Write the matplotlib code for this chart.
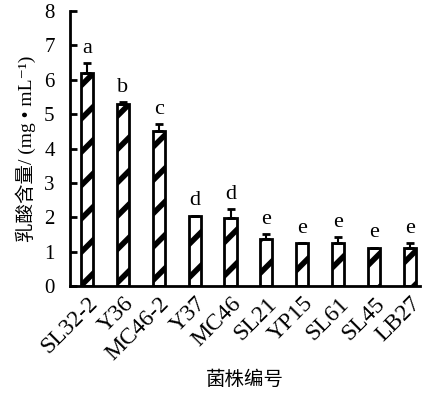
import matplotlib
matplotlib.use("Agg")
import matplotlib.pyplot as plt
import matplotlib.transforms as mtransforms
import numpy as np

strains = ["SL32-2", "Y36", "MC46-2", "Y37", "MC46", "SL21", "YP15", "SL61", "SL45", "LB27"]
values = [6.2, 5.3, 4.5, 2.05, 1.97, 1.38, 1.25, 1.25, 1.12, 1.12]
errors = [0.28, 0.05, 0.2, 0.0, 0.27, 0.13, 0.0, 0.17, 0.0, 0.13]
letters = ["a", "b", "c", "d", "d", "e", "e", "e", "e", "e"]
yticks = [0, 1, 2, 3, 4, 5, 6, 7, 8]

plt.rcParams['hatch.linewidth'] = 4.0
plt.rcParams['font.family'] = ['Liberation Serif', 'Noto Sans CJK SC', 'DejaVu Sans']

fig = plt.figure(figsize=(4.24, 3.93), dpi=100)
ax = fig.add_axes([0.165, 0.272, 0.825, 0.700])

x = np.arange(len(strains))
bars = ax.bar(x, values, width=0.34, color='white', edgecolor='black',
              linewidth=2.0, hatch='/', zorder=2)
ax.errorbar(x, values, yerr=[np.zeros(len(errors)), errors], fmt='none',
            ecolor='black', elinewidth=1.5, capsize=3, capthick=2, zorder=3)

for xi, v, e, l in zip(x, values, errors, letters):
    ax.text(xi, v + e + 0.15, l, ha='center', va='bottom', fontsize=16)

ax.set_xlim(-0.48, 9.28)
ax.set_ylim(0, 8)
ax.set_yticks(yticks)
ax.set_yticklabels([str(t) for t in yticks], fontsize=15)
ax.set_xticks(x)
ax.set_xticklabels(strains, rotation=45, ha='right', rotation_mode='anchor', fontsize=17)
offset = mtransforms.ScaledTranslation(10 / 100, -6 / 100, fig.dpi_scale_trans)
for lbl in ax.get_xticklabels():
    lbl.set_transform(lbl.get_transform() + offset)
ax.tick_params(axis='y', direction='in', length=5, width=2, pad=11)
ax.tick_params(axis='x', length=0, pad=5)
for s in ['top', 'right']:
    ax.spines[s].set_visible(False)
ax.spines['left'].set_linewidth(2)
ax.spines['bottom'].set_linewidth(2)

ax.set_ylabel("乳酸含量/ (mg • mL\u207b\u00b9)", fontsize=14, labelpad=6)
ax.set_xlabel("菌株编号", fontsize=14, va='center')
ax.xaxis.set_label_coords(0.5, -0.34)

fig.savefig("out.png", dpi=100)
